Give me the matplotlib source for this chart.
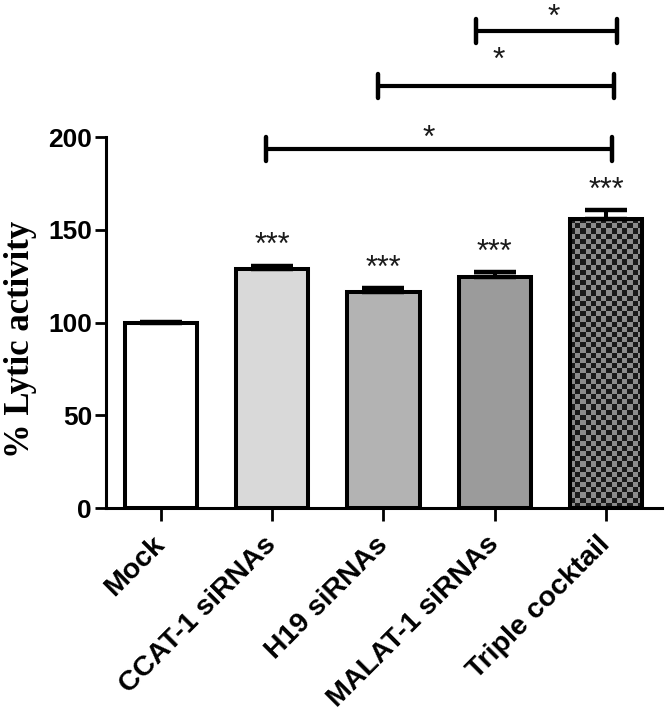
import numpy as np
import matplotlib
matplotlib.use("Agg")
import matplotlib.pyplot as plt
from matplotlib.colors import ListedColormap

# ---- data ----
categories = ["Mock", "CCAT-1 siRNAs", "H19 siRNAs", "MALAT-1 siRNAs", "Triple cocktail"]
values = [100, 129, 116.5, 124.5, 156]
errors = [0.5, 1.5, 2.0, 2.5, 4.5]
bar_stars = ["", "***", "***", "***", "***"]
y_ticks = [0, 50, 100, 150, 200]
ylabel = "% Lytic activity"

# significance brackets
bracket_left = [0.94, 1.95, 2.83]
bracket_right = [4.05, 4.07, 4.10]
bracket_y = [193.5, 227.5, 257.0]
bracket_star_x = [2.41, 3.04, 3.53]
bracket_star_y = [194.5, 236.5, 260.0]
bracket_labels = ["*", "*", "*"]

fills = ["#ffffff", "#d9d9d9", "#b3b3b3", "#9b9b9b", "none"]

W, H = 666, 713
fig = plt.figure(figsize=(W / 100, H / 100), dpi=100)
fig.patch.set_facecolor("white")
ax = fig.add_axes([106 / W, 1 - 508 / H, (662 - 106) / W, 508 / H])

x = np.arange(len(categories))
ax.set_xlim(-0.494, 4.503)
ax.set_ylim(0, 273.9)

bars = ax.bar(x, values, width=0.65, color=fills, edgecolor="black",
              linewidth=2.9, zorder=2)

# checkerboard fill for the triple cocktail bar
p = bars[4]
x0, w, h = p.get_x(), p.get_width(), p.get_height()
(px0, py0), (px1, py1) = ax.transData.transform([(x0, 0), (x0 + w, h)])
cell = 5.2
ncols = int(round((px1 - px0) / cell))
nrows = int(round((py1 - py0) / cell))
checker = (np.add.outer(np.arange(nrows), np.arange(ncols)) % 2).astype(float)
im = ax.imshow(checker, cmap=ListedColormap(["#1a1a1a", "#8c8c8c"]),
               extent=[x0, x0 + w, 0, h], aspect="auto",
               interpolation="nearest", zorder=1.5)
im.set_clip_path(p)
ax.set_xlim(-0.494, 4.503)
ax.set_ylim(0, 273.9)

ax.errorbar(x, values, yerr=[np.zeros(len(errors)), errors], fmt="none",
            ecolor="black", elinewidth=2.9, capsize=15, capthick=3.2, zorder=3)

for xi, v, e, s in zip(x, values, errors, bar_stars):
    if s:
        ax.text(xi, v + e + 6.3, s, ha="center", va="baseline",
                fontsize=22, color="#1a1a1a", family="Liberation Sans")

# brackets
for xl, xr, yb, sx, sy, lab in zip(bracket_left, bracket_right, bracket_y,
                                   bracket_star_x, bracket_star_y, bracket_labels):
    ax.plot([xl, xr], [yb, yb], color="black", lw=3, clip_on=False,
            solid_capstyle="butt", zorder=4)
    for xe in (xl, xr):
        ax.plot([xe, xe], [yb - 6.5, yb + 6.5], color="black", lw=3.2,
                clip_on=False, solid_capstyle="round", zorder=4)
    ax.text(sx, sy, lab, ha="center", va="baseline", fontsize=23,
            color="#1a1a1a", family="Liberation Sans", clip_on=False)

# axes styling
for side in ("top", "right"):
    ax.spines[side].set_visible(False)
ax.spines["left"].set_bounds(0, 200)
ax.spines["left"].set_linewidth(2.2)
ax.spines["bottom"].set_linewidth(2.2)

ax.set_yticks(y_ticks)
ax.set_yticklabels([str(t) for t in y_ticks])
ax.set_xticks(x)
ax.set_xticklabels(categories, rotation=45, ha="right", va="center",
                   rotation_mode="anchor")
ax.tick_params(axis="y", length=8, width=2, pad=2, direction="out")
ax.tick_params(axis="x", length=9.5, width=2, pad=14, direction="out")
for lab in ax.get_yticklabels():
    lab.set_fontfamily("Liberation Sans")
    lab.set_fontweight("bold")
    lab.set_fontsize(19)
for lab in ax.get_xticklabels():
    lab.set_fontfamily("Liberation Sans")
    lab.set_fontweight("bold")
    lab.set_fontsize(20.5)

ax.set_ylabel(ylabel, fontsize=25, fontweight="bold", family="Liberation Serif")
ax.yaxis.set_label_coords(-0.124, 0.332)

fig.savefig("out.png", dpi=100, facecolor="white")
